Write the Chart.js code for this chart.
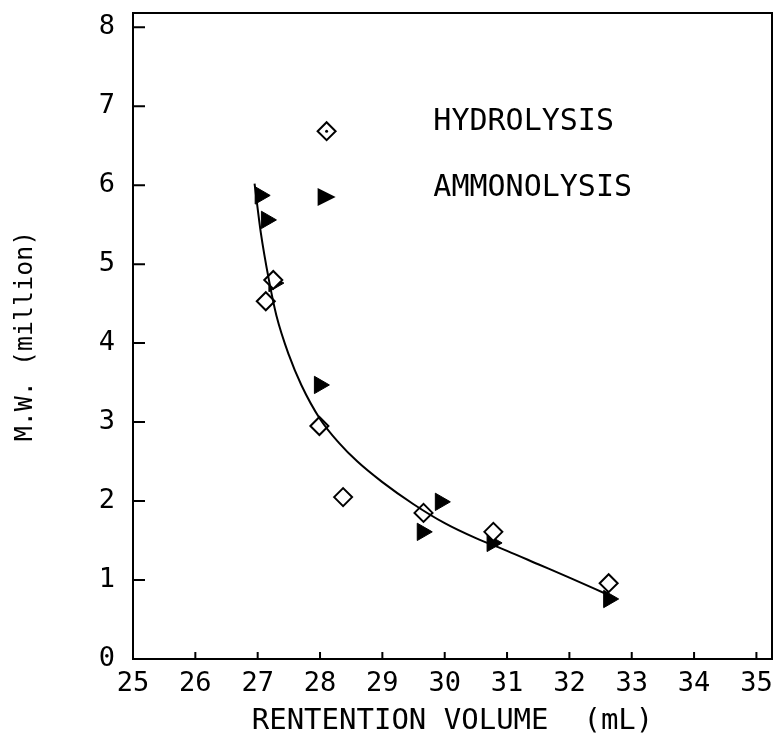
<!DOCTYPE html>
<html>
<head>
<meta charset="utf-8">
<script src="https://cdn.jsdelivr.net/npm/chart.js@4/dist/chart.umd.min.js"></script>
<style>
  html, body { margin: 0; padding: 0; background: #fff; }
  #wrap { width: 775px; height: 743px; }
</style>
</head>
<body>
<div id="wrap"><canvas id="mwChart"></canvas></div>
<script>
// data
const hydroX = [27.13, 27.25, 27.99, 28.37, 29.66, 30.78, 32.63];
const hydroY = [4.53, 4.80, 2.95, 2.05, 1.85, 1.61, 0.96];

const ammonX = [27.04, 27.14, 27.26, 27.99, 29.93, 29.64, 30.76, 32.63];
const ammonY = [5.87, 5.56, 4.76, 3.47, 1.99, 1.61, 1.47, 0.76];

// fitted curve, traced
const curveX = [26.95, 27.05, 27.18, 27.3, 27.5, 27.7, 28.0, 28.3, 28.6, 29.0, 29.5, 30.0, 30.5, 31.0, 31.5, 32.0, 32.6];
const curveY = [6.02, 5.4, 4.8, 4.35, 3.85, 3.47, 3.04, 2.74, 2.5, 2.24, 1.96, 1.72, 1.53, 1.37, 1.2, 1.03, 0.82];

const xTicks = [25, 26, 27, 28, 29, 30, 31, 32, 33, 34, 35];
const yTicks = [0, 1, 2, 3, 4, 5, 6, 7, 8];

const legendLabels = ['HYDROLYSIS', 'AMMONOLYSIS'];

const FONT = "'DejaVu Sans Mono', monospace";
const pts = (xs, ys) => xs.map((x, i) => ({ x: x, y: ys[i] }));
const noPad = () => ({ left: 0, right: 0, top: 0, bottom: 0 });

// frame, inward ticks and legend
const framePlugin = {
    id: 'frame',
    beforeDatasetsDraw(chart) {
        const { ctx, chartArea: a, scales } = chart;
        ctx.save();
        ctx.strokeStyle = '#000';
        ctx.lineWidth = 2;
        ctx.strokeRect(a.left, a.top, a.right - a.left, a.bottom - a.top);
        ctx.beginPath();
        xTicks.forEach(v => {
            const px = scales.x.getPixelForValue(v);
            ctx.moveTo(px, a.bottom);
            ctx.lineTo(px, a.bottom - 7);
        });
        yTicks.forEach(v => {
            const py = scales.y.getPixelForValue(v);
            ctx.moveTo(a.left, py);
            ctx.lineTo(a.left + 12, py);
        });
        ctx.stroke();
        ctx.restore();
    },
    afterDatasetsDraw(chart) {
        const { ctx, chartArea: a } = chart;
        const w = a.right - a.left, h = a.bottom - a.top;
        const mx = a.left + w * 0.303;
        const tx = a.left + w * 0.47;
        const rows = [a.top + h * 0.169, a.top + h * 0.271];
        ctx.save();
        ctx.fillStyle = '#000';
        ctx.strokeStyle = '#000';
        ctx.lineWidth = 2;
        // diamond
        let y = rows[0] + 9;
        ctx.beginPath();
        ctx.moveTo(mx, y - 9); ctx.lineTo(mx + 9, y); ctx.lineTo(mx, y + 9); ctx.lineTo(mx - 9, y);
        ctx.closePath(); ctx.stroke();
        ctx.beginPath(); ctx.arc(mx, y, 1.5, 0, Math.PI * 2); ctx.fill();
        // triangle
        y = rows[1] + 9;
        ctx.beginPath();
        ctx.moveTo(mx - 9, y - 9); ctx.lineTo(mx + 9, y); ctx.lineTo(mx - 9, y + 9);
        ctx.closePath(); ctx.fill();
        ctx.font = '30px ' + FONT;
        ctx.textBaseline = 'middle';
        ctx.textAlign = 'left';
        legendLabels.forEach((t, i) => ctx.fillText(t, tx, rows[i]));
        ctx.restore();
    }
};

const ctx = document.getElementById('mwChart').getContext('2d');

new Chart(ctx, {
    type: 'scatter',
    data: {
        datasets: [{
            label: 'fit',
            data: pts(curveX, curveY),
            showLine: true,
            borderColor: '#000',
            borderWidth: 2,
            pointRadius: 0,
            cubicInterpolationMode: 'monotone',
            fill: false
        }, {
            label: 'HYDROLYSIS',
            data: pts(hydroX, hydroY),
            pointStyle: 'rectRot',
            pointRadius: 9,
            backgroundColor: '#fff',
            borderColor: '#000',
            borderWidth: 2
        }, {
            label: 'hydro dot',
            data: pts(hydroX, hydroY),
            pointStyle: 'circle',
            pointRadius: 1.3,
            backgroundColor: '#000',
            borderWidth: 0
        }, {
            label: 'AMMONOLYSIS',
            data: pts(ammonX, ammonY),
            pointStyle: 'triangle',
            rotation: 90,
            pointRadius: 10,
            backgroundColor: '#000',
            borderColor: '#000',
            borderWidth: 1
        }]
    },
    options: {
        responsive: true,
        maintainAspectRatio: false,
        animation: false,
        layout: { autoPadding: false, padding: { top: 13, right: 3, left: 0, bottom: 0 } },
        plugins: {
            legend: { display: false },
            tooltip: { enabled: false }
        },
        scales: {
            x: {
                type: 'linear',
                min: 25,
                max: 35.25,
                afterBuildTicks: (s) => { s.ticks = xTicks.map(v => ({ value: v })); },
                afterFit: (s) => {
                    s.height = 84;
                    s.paddingLeft = 0; s.paddingRight = 0;
                    s.getPadding = noPad;
                },
                grid: { display: false, drawTicks: false },
                border: { display: false },
                ticks: {
                    color: '#000',
                    padding: 9,
                    font: { family: FONT, size: 27 }
                },
                title: {
                    display: true,
                    text: 'RENTENTION VOLUME  (mL)',
                    color: '#000',
                    padding: { top: 4, bottom: 4 },
                    font: { family: FONT, size: 29 }
                }
            },
            y: {
                type: 'linear',
                min: 0,
                max: 8.18,
                afterBuildTicks: (s) => { s.ticks = yTicks.map(v => ({ value: v })); },
                afterFit: (s) => {
                    s.width = 133;
                    s.paddingTop = 0; s.paddingBottom = 0;
                    s.getPadding = noPad;
                },
                grid: { display: false, drawTicks: false },
                border: { display: false },
                ticks: {
                    color: '#000',
                    padding: 18,
                    font: { family: FONT, size: 27 }
                },
                title: {
                    display: true,
                    text: 'M.W. (million)',
                    color: '#000',
                    padding: { top: 10, bottom: 10 },
                    font: { family: FONT, size: 25 }
                }
            }
        }
    },
    plugins: [framePlugin]
});
</script>
</body>
</html>
